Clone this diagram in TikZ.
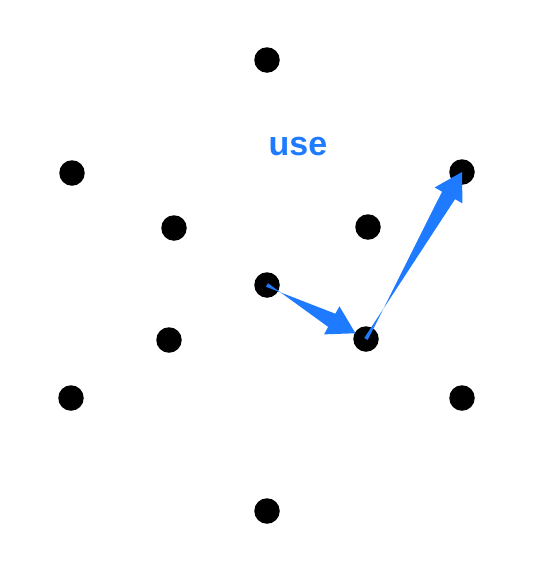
\documentclass[tikz,border=0pt]{standalone}
\usepackage{fontspec}
\setsansfont{Liberation Sans}
\usetikzlibrary{calc}

\definecolor{useblue}{RGB}{30,123,255}

% tapered arrow from #1 to #2, tip pulled back by #3
\newcommand\taperarrow[3]{%
  \coordinate (tip) at ($(#2)!#3!(#1)$);
  \coordinate (hb) at ($(tip)!27pt!(#1)$);
  \fill[useblue]
    ($(#1)!2pt!90:(tip)$)
    -- ($(hb)!7.5pt!-90:(tip)$)
    -- ($(hb)!16pt!-90:(tip)$)
    -- (tip)
    -- ($(hb)!16pt!90:(tip)$)
    -- ($(hb)!7.5pt!90:(tip)$)
    -- ($(#1)!2pt!-90:(tip)$)
    -- cycle;
}

\begin{document}
\begin{tikzpicture}
      [ x=1pt, y=-1pt
      , dot/.style={circle, fill=black, inner sep=0pt, minimum size=25.5pt}
      , label/.style={font=\sffamily\bfseries\fontsize{34}{34}\selectfont, text=useblue}
      ]
    \useasboundingbox (0,0) rectangle (538,563);

    \node[dot] (T) at (267,60) {};
    \node[dot] (UL) at (72,173) {};
    \node[dot] (UR) at (462,172) {};
    \node[dot] (IUL) at (174,228) {};
    \node[dot] (IUR) at (368,227) {};
    \node[dot] (C) at (267,285) {};
    \node[dot] (ILL) at (169,340) {};
    \node[dot] (ILR) at (366,339) {};
    \node[dot] (LL) at (71,398) {};
    \node[dot] (LR) at (462,398) {};
    \node[dot] (B) at (267,511) {};

    \node[label] (use) at (298,147) {use};

    \taperarrow{C}{ILR}{12pt}
    \taperarrow{ILR}{UR}{0pt}
\end{tikzpicture}
\end{document}
